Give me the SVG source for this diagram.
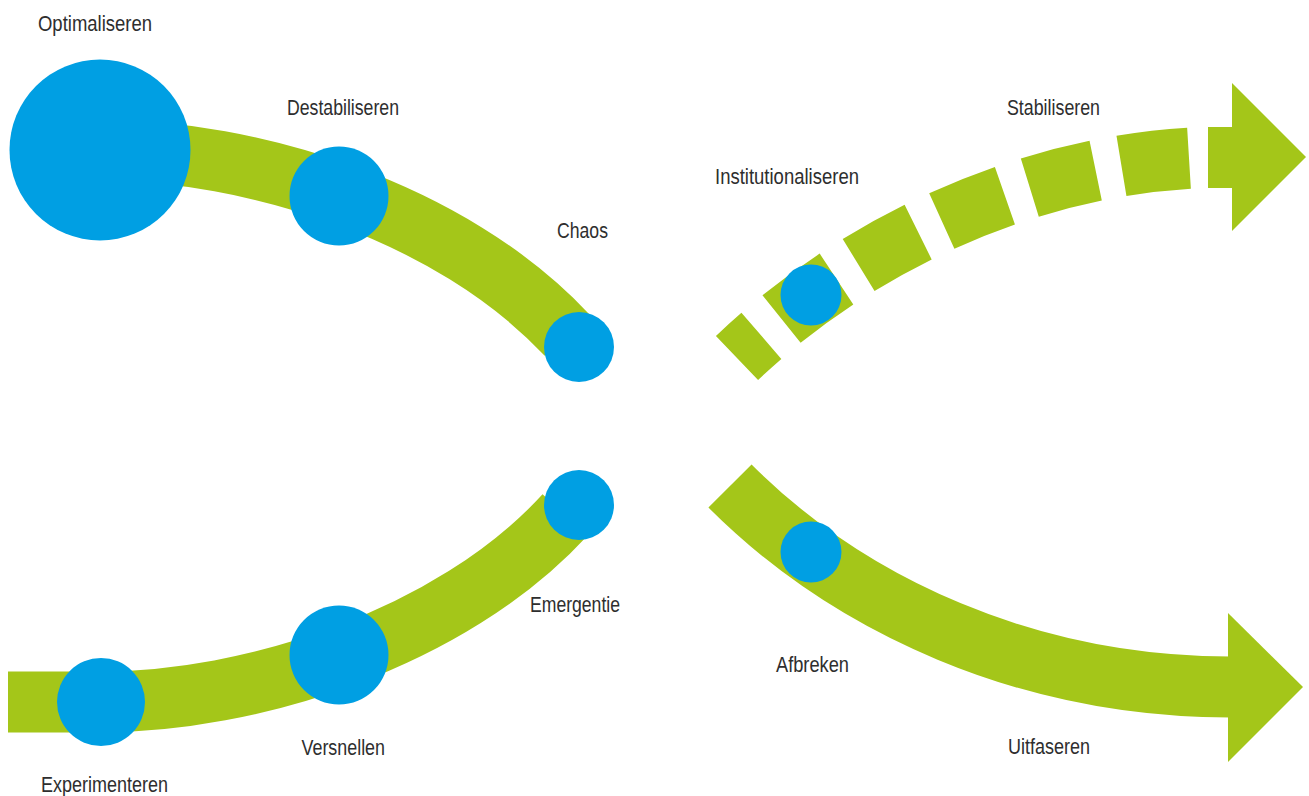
<svg xmlns="http://www.w3.org/2000/svg" width="1309" height="796" viewBox="0 0 1309 796">
  <style>
    .band { fill: none; stroke: #A4C619; stroke-width: 61; stroke-linecap: butt; }
    .dash { stroke-dasharray: 33 26.2 68 26.2 68 26.2 68 26.2 68 26.2 68 400; }
    .head { fill: #A4C619; }
    .dot { fill: #009FE3; }
    .lbl { font-family: "Liberation Sans", Arial, sans-serif; font-size: 22px; fill: #2E2E2E; }
  </style>
  <rect width="1309" height="796" fill="#FFFFFF"/>
  <g id="connectors">
    <path id="band-top-left" class="band" d="M 100 150 C 250 150 450 210 567 335"/>
    <path id="band-bottom-left" class="band" d="M 8 702 L 100 702 C 250 702 450 640 565 515"/>
    <path id="band-stabiliseren" class="band dash" d="M 737 358 C 850 250 1030 157 1228 157"/>
    <polygon id="head-stabiliseren" class="head" points="1208,127 1232,127 1232,83 1306,157 1232,231 1232,188 1208,188"/>
    <path id="band-uitfaseren" class="band" d="M 730 486 C 850 606 1028 687 1230 687"/>
    <polygon id="head-uitfaseren" class="head" points="1228,613 1303,687 1228,762"/>
  </g>
  <g id="node-optimaliseren">
    <circle class="dot" cx="100" cy="150" r="90.5"/>
    <text class="lbl" x="38" y="31" textLength="114" lengthAdjust="spacingAndGlyphs">Optimaliseren</text>
  </g>
  <g id="node-destabiliseren">
    <circle class="dot" cx="339" cy="196" r="49.5"/>
    <text class="lbl" x="287" y="114.5" textLength="112" lengthAdjust="spacingAndGlyphs">Destabiliseren</text>
  </g>
  <g id="node-chaos">
    <circle class="dot" cx="579" cy="347" r="35"/>
    <text class="lbl" x="557" y="238" textLength="51" lengthAdjust="spacingAndGlyphs">Chaos</text>
  </g>
  <g id="node-experimenteren">
    <circle class="dot" cx="101" cy="702" r="44"/>
    <text class="lbl" x="41" y="792" textLength="127" lengthAdjust="spacingAndGlyphs">Experimenteren</text>
  </g>
  <g id="node-versnellen">
    <circle class="dot" cx="339" cy="655" r="49.5"/>
    <text class="lbl" x="301.5" y="755" textLength="83.5" lengthAdjust="spacingAndGlyphs">Versnellen</text>
  </g>
  <g id="node-emergentie">
    <circle class="dot" cx="579" cy="505" r="35"/>
    <text class="lbl" x="530" y="611.5" textLength="90" lengthAdjust="spacingAndGlyphs">Emergentie</text>
  </g>
  <g id="node-institutionaliseren">
    <circle class="dot" cx="811" cy="295" r="30.5"/>
    <text class="lbl" x="715" y="184" textLength="144" lengthAdjust="spacingAndGlyphs">Institutionaliseren</text>
  </g>
  <g id="node-afbreken">
    <circle class="dot" cx="811" cy="552" r="30.5"/>
    <text class="lbl" x="776" y="672" textLength="73" lengthAdjust="spacingAndGlyphs">Afbreken</text>
  </g>
  <g id="node-stabiliseren">
    <text class="lbl" x="1007" y="114.5" textLength="93" lengthAdjust="spacingAndGlyphs">Stabiliseren</text>
  </g>
  <g id="node-uitfaseren">
    <text class="lbl" x="1008" y="754" textLength="82" lengthAdjust="spacingAndGlyphs">Uitfaseren</text>
  </g>
</svg>
